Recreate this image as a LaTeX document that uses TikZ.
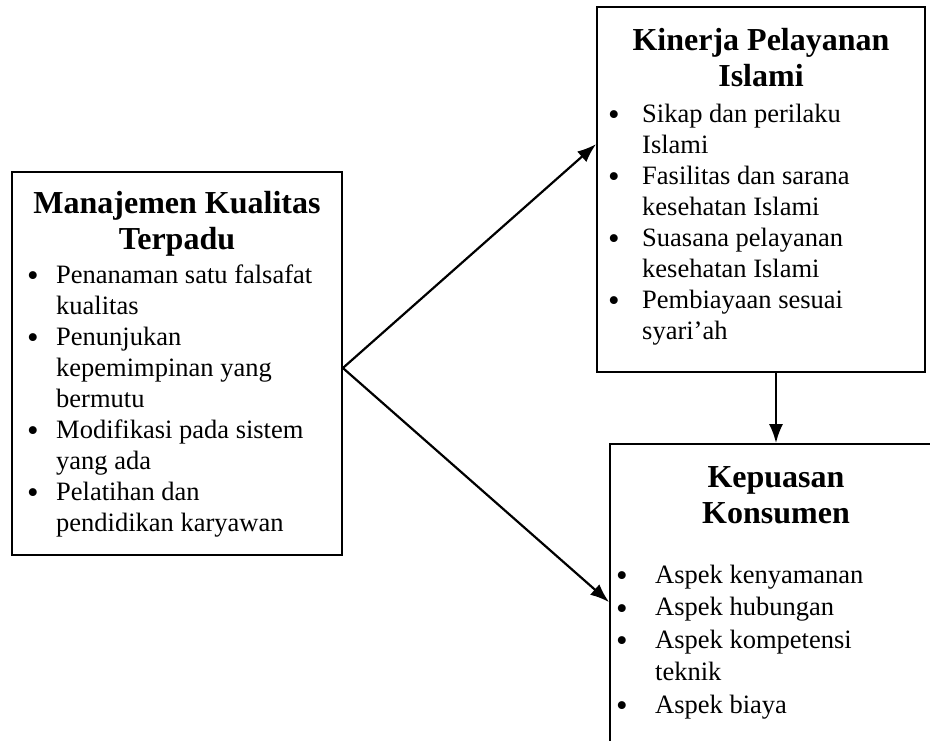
\documentclass[tikz,border=0pt]{standalone}
\usepackage{fontspec}
\setmainfont{Liberation Serif}
\usetikzlibrary{arrows.meta,calc}

\newcommand{\bul}{\raisebox{-3.5pt}{\fontsize{33}{31}\selectfont\textbullet}}

\begin{document}
\begin{tikzpicture}%
        [x=1pt, y=-1pt,
        box/.style={draw, rectangle, line width=1.8pt, inner sep=0pt},
        title/.style={align=center, inner sep=0pt, font=\fontsize{32}{36}\selectfont\bfseries},
        list/.style={align=left, inner sep=0pt, font=\fontsize{26.5}{31}\selectfont},
        link/.style={line width=2.2pt, -{Latex[length=19pt,width=14pt]}}]

    %% Page
    \clip (0,0) rectangle (930,740);
    %% Drawing the boxes
    \node[box, minimum width=330pt, minimum height=383pt] (mkt) at (177,363.5) {};
    \node[box, minimum width=328pt, minimum height=365pt] (kpi) at (761,189.5) {};
    \node[box, minimum width=332pt, minimum height=336pt] (kk) at (776,612) {};
    %%
    %% Titles (base = last line)
    %%
    \node[title, anchor=base] (mktTitle) at (177,249) {Manajemen Kualitas\\Terpadu};
    \node[title, anchor=base] (kpiTitle) at (761,86) {Kinerja Pelayanan\\Islami};
    \node[title, anchor=base] (kkTitle) at (776,523) {Kepuasan\\Konsumen};
    %%
    %% Lists
    %%
    \node[list, anchor=base west] (mktList) at (27,283) {%
      \begin{tabular}[t]{@{}p{29pt}@{}l@{}}
      \bul & Penanaman satu falsafat\\
           & kualitas\\
      \bul & Penunjukan\\
           & kepemimpinan yang\\
           & bermutu\\
      \bul & Modifikasi pada sistem\\
           & yang ada\\
      \bul & Pelatihan dan\\
           & pendidikan karyawan
      \end{tabular}};
    \node[list, anchor=base west] (kpiList) at (608,122) {%
      \begin{tabular}[t]{@{}p{34pt}@{}l@{}}
      \bul & Sikap dan perilaku\\
           & Islami\\
      \bul & Fasilitas dan sarana\\
           & kesehatan Islami\\
      \bul & Suasana pelayanan\\
           & kesehatan Islami\\
      \bul & Pembiayaan sesuai\\
           & syari’ah
      \end{tabular}};
    \node[list, anchor=base west, font=\fontsize{26.5}{32.5}\selectfont] (kkList) at (616,583) {%
      \begin{tabular}[t]{@{}p{39pt}@{}l@{}}
      \bul & Aspek kenyamanan\\
      \bul & Aspek hubungan\\
      \bul & Aspek kompetensi\\
           & teknik\\
      \bul & Aspek biaya
      \end{tabular}};
    %%
    %% Drawing the arrows
    %%
    \coordinate (mktOut) at ($(mkt.east)+(0,4.5)$);
    \coordinate (kpiIn) at ($(kpi.north west)+(0,138)$);
    \coordinate (kkIn) at ($(kk.north west)+(0,159)$);
    \draw[link] (mktOut) -- (kpiIn);
    \draw[link] (mktOut) -- (kkIn);
    \draw[link] (kk.north |- kpi.south) -- (kk.north);
    \end{tikzpicture}
\end{document}
